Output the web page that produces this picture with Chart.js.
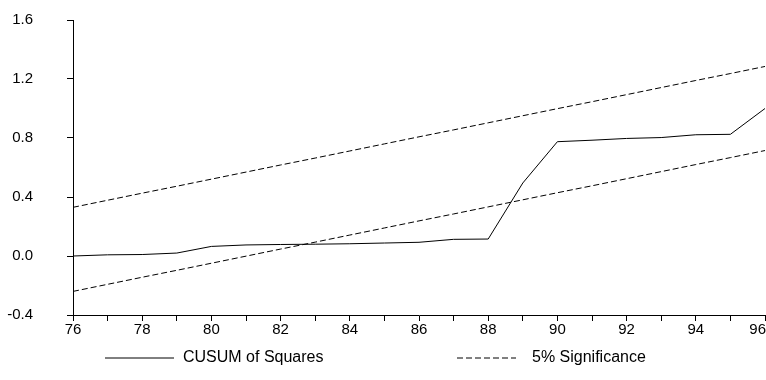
<!DOCTYPE html>
<html>
<head>
<meta charset="utf-8">
<script src="https://cdn.jsdelivr.net/npm/chart.js@4.4.1/dist/chart.umd.min.js"></script>
<style>
html,body{margin:0;padding:0;background:#fff;}
#wrap{width:766px;height:380px;position:relative;}
</style>
</head>
<body>
<div id="wrap"><canvas id="c" width="766" height="380"></canvas></div>
<script>
// ---- data ----
const years = [76,77,78,79,80,81,82,83,84,85,86,87,88,89,90,91,92,93,94,95,96];
const cusum = [0.000,0.008,0.010,0.020,0.065,0.075,0.078,0.080,0.083,0.088,0.093,0.113,0.115,0.495,0.775,0.785,0.797,0.803,0.822,0.825,1.000];
const upper = [0.330,0.378,0.426,0.473,0.521,0.569,0.617,0.664,0.712,0.760,0.808,0.855,0.903,0.951,0.999,1.046,1.094,1.142,1.190,1.237,1.285];
const lower = [-0.240,-0.192,-0.144,-0.097,-0.049,-0.001,0.047,0.094,0.142,0.190,0.238,0.285,0.333,0.381,0.429,0.476,0.524,0.572,0.620,0.667,0.715];
const xTickLabels = [76,78,80,82,84,86,88,90,92,94,96];
const yTickValues = [-0.4,0.0,0.4,0.8,1.2,1.6];
const seriesNames = ['CUSUM of Squares','5% Significance'];

const FONT = '"Liberation Sans", Arial, sans-serif';
const toXY = arr => arr.map((v,i) => ({x: years[i], y: v}));

// keep the last x label inside the canvas (as in the reference)
const edgeLabelPlugin = {
  id: 'edgeLabel',
  beforeDraw(chart) {
    const s = chart.scales.x;
    const items = s.getLabelItems();
    const last = items[items.length - 1];
    if (last && last.label) {
      last.options.textAlign = 'right';
      last.options.translation[0] = chart.width;
    }
  }
};

const legendPlugin = {
  id: 'bottomLegend',
  afterDraw(chart) {
    const ctx = chart.ctx;
    ctx.save();
    ctx.strokeStyle = '#000';
    ctx.fillStyle = '#000';
    ctx.lineWidth = 1;
    ctx.font = '16px ' + FONT;
    ctx.textBaseline = 'middle';
    ctx.textAlign = 'left';
    const y = 358;
    ctx.setLineDash([]);
    ctx.beginPath(); ctx.moveTo(105, y); ctx.lineTo(174, y); ctx.stroke();
    ctx.fillText(seriesNames[0], 183, y);
    ctx.setLineDash([6,3]);
    ctx.beginPath(); ctx.moveTo(457, y); ctx.lineTo(516, y); ctx.stroke();
    ctx.setLineDash([]);
    ctx.fillText(seriesNames[1], 532, y);
    ctx.restore();
  }
};

new Chart(document.getElementById('c'), {
  type: 'line',
  data: {
    datasets: [
      {label: seriesNames[0], data: toXY(cusum), borderColor: '#000', borderWidth: 1, pointRadius: 0, tension: 0, fill: false},
      {label: seriesNames[1], data: toXY(upper), borderColor: '#000', borderWidth: 1, borderDash: [6,3], pointRadius: 0, tension: 0, fill: false},
      {label: seriesNames[1] + ' (lower)', data: toXY(lower), borderColor: '#000', borderWidth: 1, borderDash: [6,3], pointRadius: 0, tension: 0, fill: false}
    ]
  },
  options: {
    responsive: false,
    animation: false,
    devicePixelRatio: 1,
    layout: {padding: {left: 0, right: 1, top: 20, bottom: 0}},
    plugins: {legend: {display: false}, tooltip: {enabled: false}},
    scales: {
      x: {
        type: 'linear', min: 76, max: 96,
        border: {display: true, color: '#000', width: 1},
        grid: {drawOnChartArea: false, drawTicks: true, tickLength: 6, color: '#000'},
        ticks: {
          stepSize: 1, autoSkip: false, maxRotation: 0, padding: 0,
          color: '#000', font: {family: FONT, size: 15},
          callback: v => xTickLabels.includes(v) ? String(v) : ''
        },
        afterFit: s => { s.height = 65; s.paddingLeft = 0; s.paddingRight = 0; }
      },
      y: {
        min: -0.4, max: 1.6,
        border: {display: true, color: '#000', width: 1},
        grid: {drawOnChartArea: false, drawTicks: true, tickLength: 6, color: '#000'},
        afterBuildTicks: s => { s.ticks = yTickValues.map(v => ({value: v})); },
        ticks: {
          padding: 34, color: '#000', font: {family: FONT, size: 15},
          callback: v => Number(v).toFixed(1)
        },
        afterFit: s => { s.width = 73; s.paddingTop = 0; s.paddingBottom = 0; }
      }
    }
  },
  plugins: [edgeLabelPlugin, legendPlugin]
});
</script>
</body>
</html>
